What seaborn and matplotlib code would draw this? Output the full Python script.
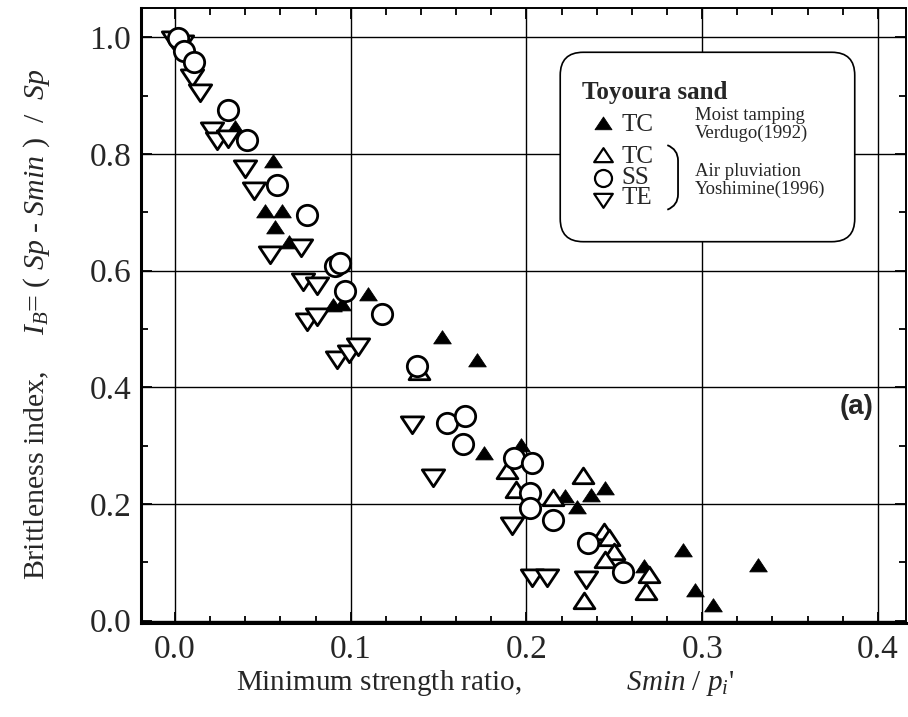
import numpy as np
import pandas as pd
import matplotlib
matplotlib.use("Agg")
import matplotlib.pyplot as plt
import seaborn as sns
from matplotlib.patches import FancyBboxPatch, PathPatch
from matplotlib.path import Path
from matplotlib.markers import MarkerStyle
from matplotlib.ticker import MultipleLocator, FixedLocator, FixedFormatter

# ---------------- data ----------------
# Filled triangles: TC, moist tamping, Verdugo (1992)
tc_moist_x = [0.034, 0.056, 0.051, 0.061, 0.057, 0.065, 0.090, 0.095, 0.110,
              0.152, 0.172, 0.176, 0.197, 0.222, 0.229, 0.237, 0.245, 0.267,
              0.289, 0.296, 0.306, 0.332]
tc_moist_y = [0.842, 0.784, 0.698, 0.698, 0.672, 0.645, 0.538, 0.540, 0.557,
              0.483, 0.443, 0.284, 0.298, 0.210, 0.191, 0.212, 0.224, 0.090,
              0.117, 0.049, 0.023, 0.092]

# Open triangles: TC, air pluviation, Yoshimine (1996)
tc_air_x = [0.139, 0.189, 0.194, 0.215, 0.232, 0.244, 0.247, 0.250, 0.245,
            0.270, 0.268, 0.233]
tc_air_y = [0.422, 0.253, 0.221, 0.207, 0.245, 0.148, 0.138, 0.115, 0.100,
            0.074, 0.046, 0.031]

# Open circles: SS, air pluviation
ss_air_x = [0.002, 0.005, 0.011, 0.030, 0.041, 0.058, 0.075, 0.091, 0.094,
            0.097, 0.118, 0.138, 0.155, 0.165, 0.164, 0.193, 0.203, 0.202,
            0.202, 0.215, 0.235, 0.255]
ss_air_y = [0.998, 0.976, 0.958, 0.875, 0.824, 0.747, 0.695, 0.607, 0.613,
            0.565, 0.526, 0.436, 0.338, 0.350, 0.302, 0.279, 0.270, 0.219,
            0.193, 0.172, 0.133, 0.083]

# Inverted open triangles: TE, air pluviation
te_air_x = [-0.001, 0.004, 0.010, 0.014, 0.021, 0.024, 0.030, 0.040, 0.045,
            0.054, 0.072, 0.073, 0.081, 0.075, 0.081, 0.092, 0.099, 0.104,
            0.135, 0.147, 0.192, 0.203, 0.212, 0.234]
te_air_y = [1.000, 0.993, 0.935, 0.910, 0.845, 0.828, 0.831, 0.779, 0.741,
            0.632, 0.643, 0.586, 0.578, 0.517, 0.526, 0.452, 0.462, 0.474,
            0.341, 0.250, 0.167, 0.078, 0.078, 0.074]

x_major = [0.0, 0.1, 0.2, 0.3, 0.4]
y_major = [0.0, 0.2, 0.4, 0.6, 0.8, 1.0]
x_tick_labels = ["0.0", "0.1", "0.2", "0.3", "0.4"]
y_tick_labels = ["0.0", "0.2", "0.4", "0.6", "0.8", "1.0"]

# ---------------- style ----------------
sns.set_style("ticks")
plt.rcParams['font.family'] = ['Liberation Serif', 'DejaVu Serif']
plt.rcParams['mathtext.fontset'] = 'custom'
plt.rcParams['mathtext.rm'] = 'Liberation Serif'
plt.rcParams['mathtext.it'] = 'Liberation Serif:italic'
plt.rcParams['mathtext.bf'] = 'Liberation Serif:bold'

fig = plt.figure(figsize=(9.08, 7.17), dpi=100)
ax = fig.add_axes([141 / 908, 94 / 717, 765 / 908, 615 / 717])

# marker shapes (flattened triangles)
codes = [Path.MOVETO, Path.LINETO, Path.LINETO, Path.CLOSEPOLY]
tri_up = MarkerStyle(Path([(-1, -0.5), (1, -0.5), (0, 1.0), (-1, -0.5)], codes),
                     joinstyle='miter')
tri_dn = MarkerStyle(Path([(-1, 0.5), (1, 0.5), (0, -1.0), (-1, 0.5)], codes),
                     joinstyle='miter')

df_moist = pd.DataFrame({"x": tc_moist_x, "y": tc_moist_y})
df_tc = pd.DataFrame({"x": tc_air_x, "y": tc_air_y})
df_ss = pd.DataFrame({"x": ss_air_x, "y": ss_air_y})
df_te = pd.DataFrame({"x": te_air_x, "y": te_air_y})

sns.scatterplot(data=df_moist, x="x", y="y", ax=ax, marker=tri_up, s=160,
                facecolor="black", edgecolor="black", linewidth=0.6, zorder=3)
sns.scatterplot(data=df_te, x="x", y="y", ax=ax, marker=tri_dn, s=260,
                facecolor="white", edgecolor="black", linewidth=2.0, zorder=4)
sns.scatterplot(data=df_tc, x="x", y="y", ax=ax, marker=tri_up, s=225,
                facecolor="white", edgecolor="black", linewidth=2.0, zorder=5)
sns.scatterplot(data=df_ss, x="x", y="y", ax=ax, marker="o", s=215,
                facecolor="white", edgecolor="black", linewidth=2.0, zorder=6)

# ---------------- axes ----------------
ax.set_xlim(-0.0193, 0.416)
ax.set_ylim(-0.004, 1.050)
ax.xaxis.set_major_locator(FixedLocator(x_major))
ax.xaxis.set_major_formatter(FixedFormatter(x_tick_labels))
ax.yaxis.set_major_locator(FixedLocator(y_major))
ax.yaxis.set_major_formatter(FixedFormatter(y_tick_labels))
ax.xaxis.set_minor_locator(MultipleLocator(0.02))
ax.yaxis.set_minor_locator(MultipleLocator(0.1))
ax.tick_params(which='both', direction='in', top=True, right=True,
               color='black', width=1.3)
ax.tick_params(which='major', length=8, labelsize=24)
ax.tick_params(which='minor', length=5)
ax.tick_params(axis='x', which='major', pad=8)
ax.tick_params(axis='y', which='major', pad=7)

ax.grid(True, which='major', color='black', linewidth=1.0)
ax.set_axisbelow(True)
for side in ['left', 'bottom']:
    ax.spines[side].set_linewidth(2.2)
for side in ['top', 'right']:
    ax.spines[side].set_linewidth(1.4)
for sp in ax.spines.values():
    sp.set_color('black')

ax.set_xlabel(r"Minimum strength ratio,$\qquad\qquad\quad Smin\ /\ p_i$'",
              fontsize=21)
ax.xaxis.label.set_va('center')
ax.xaxis.set_label_coords(0.450, -0.098)

ax.set_ylabel(r"Brittleness index,$\quad\ \ I_B$= ( $Sp$ - $Smin$ )  /  $Sp$",
              fontsize=21.5)
ax.yaxis.label.set_va('center')
ax.yaxis.set_label_coords(-0.136, 0.485)

# ---------------- legend box ----------------
T = ax.transAxes
box = FancyBboxPatch((0.548, 0.620), 0.385, 0.308,
                     boxstyle="round,pad=0,rounding_size=0.03",
                     mutation_aspect=765 / 615,
                     transform=T, facecolor='white', edgecolor='black',
                     linewidth=1.2, zorder=10)
ax.add_patch(box)
ax.text(0.576, 0.863, "Toyoura sand", transform=T, fontsize=18,
        fontweight='bold', ha='left', va='center', zorder=11)

leg_items = [("TC", tri_up, 'black', 0.810, 150, 0.6),
             ("TC", tri_up, 'white', 0.758, 180, 1.6),
             ("SS", 'o', 'white', 0.724, 150, 1.6),
             ("TE", tri_dn, 'white', 0.691, 180, 1.6)]
for lab, mk, fc, yy, ss, lw in leg_items:
    ax.scatter([0.604], [yy], transform=T, marker=mk, s=ss, facecolor=fc,
               edgecolor='black', linewidth=lw, zorder=11, clip_on=False)
    ax.text(0.628, yy, lab, transform=T, fontsize=18, ha='left',
            va='center', zorder=11)

ax.text(0.724, 0.826, "Moist tamping", transform=T, fontsize=13.5,
        ha='left', va='center', zorder=11)
ax.text(0.724, 0.797, "Verdugo(1992)", transform=T, fontsize=13.5,
        ha='left', va='center', zorder=11)
ax.text(0.724, 0.734, "Air pluviation", transform=T, fontsize=13.5,
        ha='left', va='center', zorder=11)
ax.text(0.724, 0.705, "Yoshimine(1996)", transform=T, fontsize=13.5,
        ha='left', va='center', zorder=11)

brace = Path([(0.688, 0.777), (0.702, 0.770), (0.702, 0.752),
              (0.702, 0.697),
              (0.702, 0.679), (0.688, 0.672)],
             [Path.MOVETO, Path.CURVE3, Path.CURVE3, Path.LINETO,
              Path.CURVE3, Path.CURVE3])
ax.add_patch(PathPatch(brace, transform=T, facecolor='none',
                       edgecolor='black', linewidth=1.3, zorder=11))

ax.text(0.957, 0.351, "(a)", transform=T, fontsize=20, fontweight='bold',
        family=['Liberation Sans', 'DejaVu Sans'], ha='right', va='center',
        zorder=11)

fig.savefig("out.png", dpi=100)
